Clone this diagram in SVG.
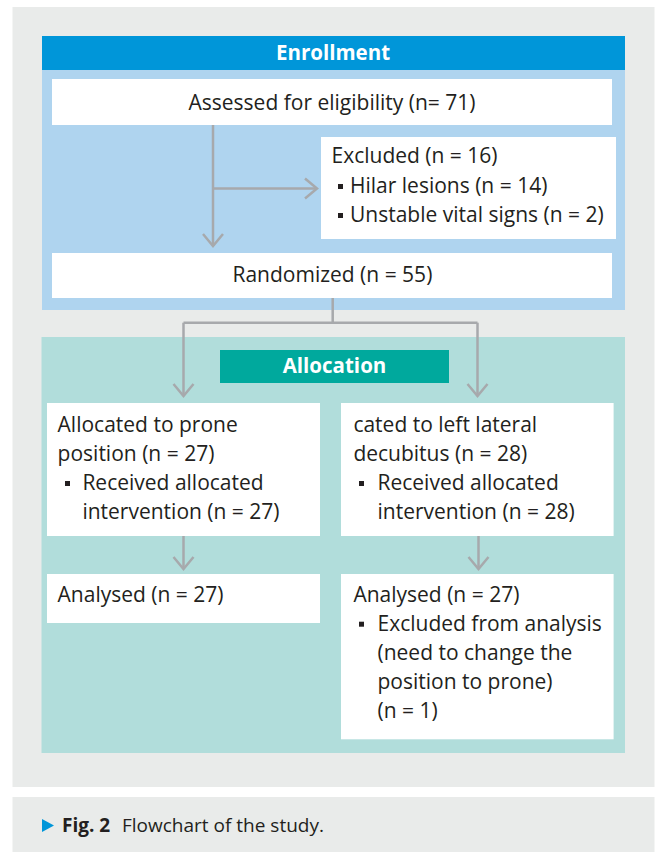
<svg xmlns="http://www.w3.org/2000/svg" width="660" height="852" viewBox="0 0 660 852">
<defs>
<marker id="chev" markerUnits="userSpaceOnUse" markerWidth="20" markerHeight="28" viewBox="-16 -14 20 28" refX="0" refY="0" orient="auto">
<path d="M-12,-10 L0,0 L-12,10" fill="none" stroke="#a7a9ac" stroke-width="2.5"/>
</marker>
<style>
.t{font-family:"Open Sans","Liberation Sans",sans-serif;font-size:21px;fill:#231f20}
.h{font-family:"Open Sans","Liberation Sans",sans-serif;font-size:20.5px;font-weight:bold;fill:#ffffff}
.box{fill:#ffffff}
.conn{fill:none;stroke:#a7a9ac;stroke-width:2.5}
.arr{marker-end:url(#chev)}
.bul{fill:#231f20}
</style>
</defs>
<rect x="0" y="0" width="660" height="852" fill="#ffffff"/>
<rect x="12.5" y="7" width="642" height="780" fill="#e9ebea"/>
<rect x="12.5" y="797" width="642" height="55" fill="#e9ebea"/>
<g id="enrollment-panel">
<rect x="42" y="36" width="583" height="274" fill="#afd4ef"/>
<rect x="42" y="36" width="583" height="34" fill="#0096d9"/>
<text class="h" x="333" y="60" text-anchor="middle">Enrollment</text>
</g>
<g id="allocation-panel">
<rect x="41.5" y="337" width="583.5" height="416" fill="#b1dddb"/>
<rect x="220" y="350" width="229" height="33" fill="#00a99d"/>
<text class="h" x="334.5" y="373" text-anchor="middle">Allocation</text>
</g>
<g id="connectors">
<path class="conn arr" d="M213 125 V246"/>
<path class="conn arr" d="M213 188.5 H317"/>
<path class="conn" d="M332.7 298 V322.7 M183.5 322.7 H477.5"/>
<path class="conn arr" d="M183.5 322.7 V396"/>
<path class="conn arr" d="M477.5 322.7 V396"/>
<path class="conn arr" d="M183.5 536 V569"/>
<path class="conn arr" d="M478.5 536 V569"/>
</g>
<g id="assessed">
<rect class="box" x="52" y="79" width="560" height="46"/>
<text class="t" x="332" y="110" text-anchor="middle">Assessed for eligibility (n= 71)</text>
</g>
<g id="excluded">
<rect class="box" x="321" y="137" width="295" height="102"/>
<text class="t" x="331.5" y="163.3">Excluded (n = 16)</text>
<rect class="bul" x="338" y="184" width="5" height="5"/>
<text class="t" x="350" y="192.7">Hilar lesions (n = 14)</text>
<rect class="bul" x="338" y="213" width="5" height="5"/>
<text class="t" x="350" y="221.7">Unstable vital signs (n = 2)</text>
</g>
<g id="randomized">
<rect class="box" x="52" y="253" width="560" height="45"/>
<text class="t" x="332.4" y="281.7" text-anchor="middle">Randomized (n = 55)</text>
</g>
<g id="alloc-prone">
<rect class="box" x="47" y="403" width="273" height="133"/>
<text class="t" x="57.6" y="431.7">Allocated to prone</text>
<text class="t" x="57.6" y="460.5">position (n = 27)</text>
<rect class="bul" x="65" y="481" width="5" height="5"/>
<text class="t" x="82.4" y="490">Received allocated</text>
<text class="t" x="82.4" y="519">intervention (n = 27)</text>
</g>
<g id="alloc-lateral">
<rect class="box" x="341" y="403" width="272.6" height="133"/>
<text class="t" x="353.4" y="431.7">cated to left lateral</text>
<text class="t" x="353.4" y="460.5">decubitus (n = 28)</text>
<rect class="bul" x="359" y="481" width="5" height="5"/>
<text class="t" x="377.5" y="490">Received allocated</text>
<text class="t" x="377.5" y="519">intervention (n = 28)</text>
</g>
<g id="analysed-prone">
<rect class="box" x="47" y="574" width="273" height="49"/>
<text class="t" x="57.6" y="601.7">Analysed (n = 27)</text>
</g>
<g id="analysed-lateral">
<rect class="box" x="341" y="574" width="272.6" height="165.3"/>
<text class="t" x="353.4" y="601.7">Analysed (n = 27)</text>
<rect class="bul" x="359" y="621.7" width="5" height="5"/>
<text class="t" x="377.5" y="630.7">Excluded from analysis</text>
<text class="t" x="377.5" y="659.7">(need to change the</text>
<text class="t" x="377.5" y="688.5">position to prone)</text>
<text class="t" x="377.5" y="718">(n = 1)</text>
</g>
<g id="caption">
<path d="M42 819 L54 825.5 L42 832 Z" fill="#0096d9"/>
<text x="62" y="831.7" style="font-family:'Open Sans','Liberation Sans',sans-serif;font-size:19px;fill:#231f20"><tspan font-weight="bold">Fig. 2</tspan><tspan x="122">Flowchart of the study.</tspan></text>
</g>
</svg>
